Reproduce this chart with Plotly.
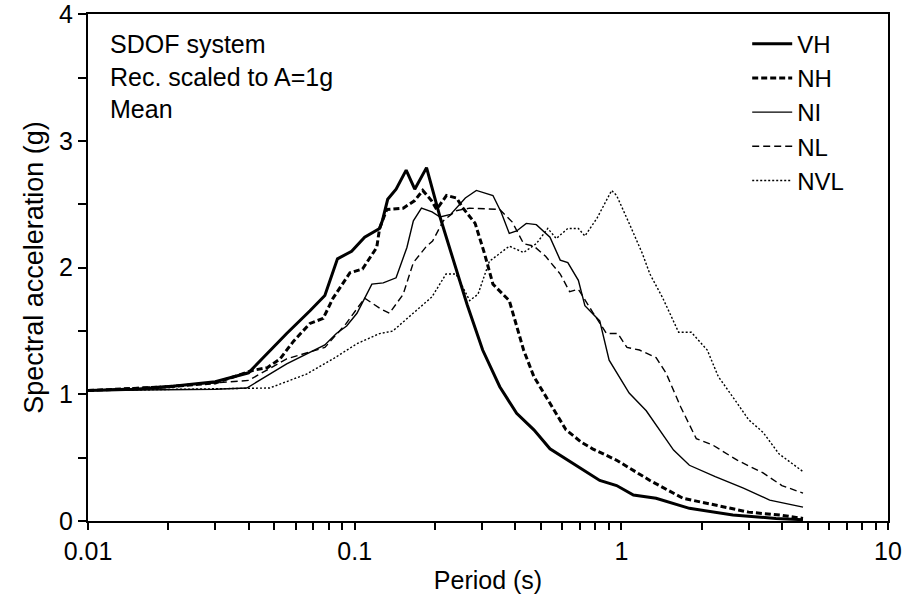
import plotly.graph_objects as go

# ---- data (period in s, spectral acceleration in g) ----
vh_T = [0.01, 0.015, 0.02, 0.03, 0.04, 0.0556, 0.068, 0.0773, 0.0862, 0.0974, 0.109, 0.124, 0.127,
        0.133, 0.143, 0.156, 0.168, 0.186, 0.209, 0.23, 0.264, 0.302, 0.35, 0.405, 0.47, 0.54, 0.642,
        0.83, 0.96, 1.11, 1.35, 1.8, 2.62, 3.8, 4.8]
vh_S = [1.03, 1.04, 1.06, 1.10, 1.17, 1.48, 1.66, 1.78, 2.07, 2.13, 2.24, 2.31, 2.37,
        2.54, 2.62, 2.77, 2.62, 2.79, 2.40, 2.11, 1.71, 1.35, 1.06, 0.85, 0.72, 0.57, 0.467,
        0.32, 0.28, 0.205, 0.18, 0.10, 0.047, 0.02, 0.01]

nh_T = [0.01, 0.02, 0.03, 0.0416, 0.047, 0.0525, 0.059, 0.068, 0.0762, 0.083, 0.096, 0.107, 0.121,
        0.124, 0.132, 0.152, 0.168, 0.18, 0.194, 0.203, 0.221, 0.241, 0.255, 0.283, 0.307, 0.32,
        0.33, 0.38, 0.405, 0.43, 0.47, 0.54, 0.62, 0.71, 0.78, 0.96, 1.28, 1.7, 2.28, 3.0, 4.0, 4.8]
nh_S = [1.03, 1.06, 1.09, 1.19, 1.21, 1.28, 1.42, 1.56, 1.60, 1.76, 1.96, 1.99, 2.16,
        2.31, 2.46, 2.47, 2.53, 2.61, 2.53, 2.46, 2.57, 2.55, 2.47, 2.35, 2.11, 1.96,
        1.87, 1.74, 1.53, 1.35, 1.14, 0.93, 0.72, 0.62, 0.57, 0.48, 0.32, 0.18, 0.126, 0.07, 0.045, 0.02]

ni_T = [0.01, 0.02, 0.03, 0.0394, 0.0556, 0.0773, 0.0854, 0.0933, 0.102, 0.116, 0.128, 0.143, 0.157,
        0.166, 0.178, 0.195, 0.209, 0.229, 0.26, 0.286, 0.33, 0.354, 0.38, 0.405, 0.44, 0.48, 0.54,
        0.59, 0.63, 0.69, 0.73, 0.83, 0.9, 1.07, 1.24, 1.57, 1.8, 2.25, 2.87, 3.6, 4.8]
ni_S = [1.03, 1.04, 1.04, 1.05, 1.24, 1.39, 1.48, 1.54, 1.64, 1.87, 1.88, 1.92, 2.16,
        2.37, 2.47, 2.44, 2.40, 2.42, 2.55, 2.61, 2.57, 2.44, 2.27, 2.29, 2.35, 2.34, 2.24,
        2.06, 2.04, 1.90, 1.70, 1.58, 1.27, 1.01, 0.87, 0.56, 0.44, 0.35, 0.26, 0.165, 0.11]

nl_T = [0.01, 0.0215, 0.03, 0.04, 0.0556, 0.0773, 0.093, 0.109, 0.124, 0.135, 0.152, 0.166, 0.186,
        0.196, 0.215, 0.24, 0.27, 0.35, 0.39, 0.43, 0.47, 0.52, 0.59, 0.64, 0.69, 0.78, 0.88, 0.97,
        1.05, 1.17, 1.35, 1.47, 1.67, 1.91, 2.2, 2.72, 3.4, 4.0, 4.8]
nl_S = [1.03, 1.07, 1.09, 1.11, 1.28, 1.37, 1.56, 1.76, 1.68, 1.64, 1.79, 2.04, 2.17,
        2.21, 2.37, 2.45, 2.47, 2.46, 2.36, 2.19, 2.17, 2.09, 1.95, 1.81, 1.83, 1.65, 1.48, 1.48,
        1.37, 1.35, 1.29, 1.17, 0.90, 0.65, 0.60, 0.48, 0.38, 0.28, 0.22]

nvl_T = [0.01, 0.02, 0.03, 0.048, 0.066, 0.083, 0.102, 0.124, 0.139, 0.17, 0.195, 0.22, 0.24, 0.27,
         0.29, 0.32, 0.38, 0.43, 0.48, 0.53, 0.57, 0.63, 0.69, 0.73, 0.81, 0.92, 0.96, 1.07, 1.2,
         1.28, 1.43, 1.64, 1.83, 2.1, 2.31, 2.72, 3.0, 3.4, 3.9, 4.8]
nvl_S = [1.03, 1.04, 1.04, 1.05, 1.16, 1.28, 1.40, 1.48, 1.50, 1.66, 1.77, 1.95, 1.95, 1.74,
         1.79, 2.05, 2.17, 2.12, 2.19, 2.31, 2.23, 2.31, 2.31, 2.25, 2.39, 2.61, 2.57, 2.35, 2.11,
         1.95, 1.76, 1.49, 1.49, 1.35, 1.14, 0.93, 0.80, 0.70, 0.53, 0.39]

series_names = ["VH", "NH", "NI", "NL", "NVL"]

x_tickvals = [d * m for d in (0.01, 0.1, 1) for m in range(1, 10)] + [10]
x_ticktext = [("0.01" if v == 0.01 else "0.1" if v == 0.1 else "1" if v == 1 else "") for v in x_tickvals[:-1]] + ["10"]
y_tickvals = [0, 0.5, 1, 1.5, 2, 2.5, 3, 3.5, 4]
y_ticktext = ["0", "", "1", "", "2", "", "3", "", "4"]

FONT = "Liberation Sans, Arial, Helvetica, sans-serif"

styles = [
    dict(width=3.0, dash="solid"),
    dict(width=3.0, dash="6px,3px"),
    dict(width=1.4, dash="solid"),
    dict(width=1.4, dash="7px,4px"),
    dict(width=1.4, dash="2px,2px"),
]

fig = go.Figure()
for name, xs, ys, st in zip(series_names, [vh_T, nh_T, ni_T, nl_T, nvl_T],
                            [vh_S, nh_S, ni_S, nl_S, nvl_S], styles):
    fig.add_trace(go.Scatter(x=xs, y=ys, mode="lines", name=name,
                             line=dict(color="black", width=st["width"], dash=st["dash"])))

fig.update_layout(
    width=904, height=602,
    margin=dict(l=88, r=16, t=14, b=81),
    paper_bgcolor="white", plot_bgcolor="white",
    font=dict(family=FONT, size=25, color="black"),
    showlegend=True,
    legend=dict(x=0.824, y=0.985, xanchor="left", yanchor="top", bgcolor="rgba(0,0,0,0)",
                font=dict(size=24), tracegroupgap=0, itemwidth=40),
    annotations=[dict(xref="paper", yref="paper", x=0.025, y=0.972, xanchor="left", yanchor="top",
                      align="left", showarrow=False,
                      text="SDOF system<br>Rec. scaled to A=1g<br>Mean",
                      font=dict(size=25))],
)
fig.update_xaxes(type="log", range=[-2, 1], showline=True, linecolor="black", linewidth=2,
                 mirror=True, ticks="outside", ticklen=7, tickwidth=1.5, tickcolor="black",
                 tickvals=x_tickvals, ticktext=x_ticktext, showgrid=False, zeroline=False,
                 automargin=False,
                 title=dict(text="Period (s)", font=dict(size=25), standoff=7))
fig.update_yaxes(range=[0, 4.003], showline=True, linecolor="black", linewidth=2, mirror=True,
                 ticks="outside", ticklen=8, tickwidth=1.5, tickcolor="black",
                 tickvals=y_tickvals, ticktext=y_ticktext, showgrid=False, zeroline=False,
                 automargin=False,
                 title=dict(text="Spectral acceleration (g)", font=dict(size=27), standoff=8))

fig.write_html("out.html")
